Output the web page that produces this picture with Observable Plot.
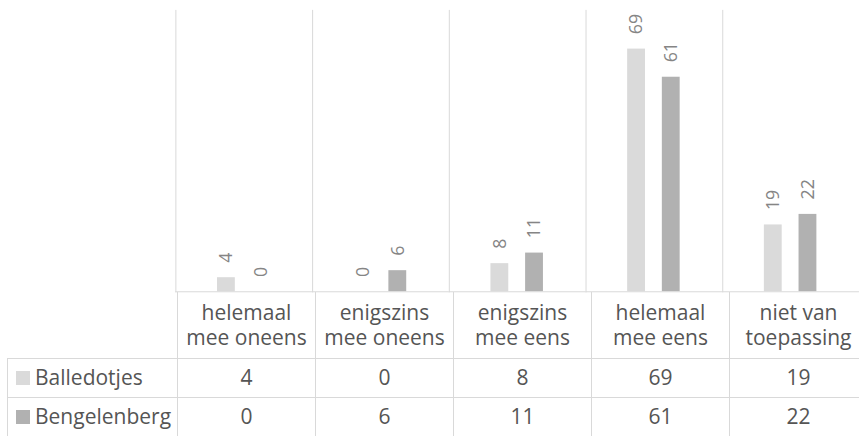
<!DOCTYPE html>
<html><head><meta charset="utf-8">
<script src="https://cdn.jsdelivr.net/npm/d3@7"></script>
<script src="https://cdn.jsdelivr.net/npm/@observablehq/plot@0.6"></script>
<style>
html,body{margin:0;padding:0;background:#fff;}
#wrap{width:859px;height:436px;overflow:hidden;position:relative;}
#wrap svg{display:block;}
table{border-collapse:collapse;table-layout:fixed;margin-left:7px;font-family:"Open Sans";font-size:21px;color:#555;}
td{border:1px solid #d9d9d9;text-align:center;padding:0;line-height:25px;white-space:pre-line;overflow:hidden;}
td.lab{text-align:left;white-space:nowrap;}
.key{display:inline-block;width:14px;height:14px;margin:0 5px 0 8px;vertical-align:0px;}
</style></head><body><div id="wrap"></div>
<script>
const categories = ["helemaal\nmee oneens", "enigszins\nmee oneens", "enigszins\nmee eens", "helemaal\nmee eens", "niet van\ntoepassing"];
const series = ["Balledotjes", "Bengelenberg"];
const balledotjes = [4, 0, 8, 69, 19];
const bengelenberg = [0, 6, 11, 61, 22];
const colors = ["#dadada", "#b1b1b1"];

const values = [balledotjes, bengelenberg];
const data = [];
series.forEach((s, i) => categories.forEach((c, j) => data.push({cat: c, series: s, value: values[i][j]})));

const chart = Plot.plot({
  width: 867,
  height: 295,
  marginLeft: 177,
  marginRight: 0,
  marginTop: 10,
  marginBottom: 1,
  fx: {domain: categories, padding: 0, axis: null},
  x: {domain: series, paddingInner: 0.4722, paddingOuter: 1.1528, axis: null},
  y: {domain: [0, 80], axis: null},
  color: {domain: series, range: colors},
  style: {background: "#fff", overflow: "visible"},
  marks: [
    Plot.frame({anchor: "left", stroke: "#d9d9d9"}),
    Plot.barY(data, {fx: "cat", x: "series", y: "value", fill: "series"}),
    Plot.ruleY([0], {stroke: "#d9d9d9"}),
    Plot.text(data, {fx: "cat", x: "series", y: "value", text: d => String(d.value), rotate: -90, textAnchor: "start", dy: -15, fill: "#858585", fontSize: 18, fontFamily: "Open Sans"})
  ]
});
const wrap = document.getElementById("wrap");
wrap.appendChild(chart);

// data table below the chart
const table = document.createElement("table");
const cg = document.createElement("colgroup");
[170, ...categories.map(() => 138)].forEach(w => { const col = document.createElement("col"); col.style.width = w + "px"; cg.appendChild(col); });
table.appendChild(cg);
table.style.width = (170 + 138 * categories.length) + "px";
const hr = document.createElement("tr");
hr.style.height = "66px";
const h0 = document.createElement("td");
h0.style.borderTop = "none"; h0.style.borderLeft = "none";
hr.appendChild(h0);
categories.forEach(c => { const td = document.createElement("td"); td.textContent = c; td.style.borderTop = "none"; hr.appendChild(td); });
table.appendChild(hr);
series.forEach((s, i) => {
  const tr = document.createElement("tr");
  tr.style.height = "39px";
  const td0 = document.createElement("td");
  td0.className = "lab";
  const key = document.createElement("span");
  key.className = "key"; key.style.background = colors[i];
  td0.appendChild(key);
  td0.appendChild(document.createTextNode(s));
  tr.appendChild(td0);
  values[i].forEach(v => { const td = document.createElement("td"); td.textContent = v; tr.appendChild(td); });
  table.appendChild(tr);
});
wrap.appendChild(table);
</script></body></html>
